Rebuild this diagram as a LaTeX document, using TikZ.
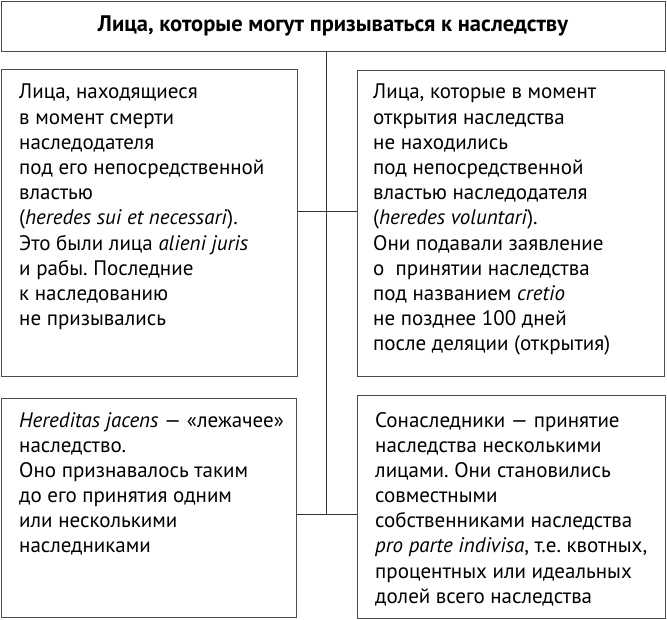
\documentclass[tikz,border=0pt]{standalone}
\usepackage{fontspec}
\setmainfont{PT Sans}
\frenchspacing
\begin{document}
\begin{tikzpicture}[x=1pt,y=-1pt,
  box/.style={draw=black!70, line width=0.9pt, inner sep=0pt, anchor=north west},
  txt/.style={anchor=base west, inner sep=0pt, font=\fontsize{21}{25.2}\selectfont},
  conn/.style={draw=black!80, line width=0.9pt}]
\useasboundingbox (0,0) rectangle (667,620);
\node[draw=black!70, line width=0.9pt, inner sep=0pt, minimum width=664pt, minimum height=50pt,
      font=\bfseries\fontsize{22.5}{24}\selectfont] (title) at (333,26) {Лица, которые могут призываться к наследству};
\node[box, minimum width=296pt, minimum height=307pt] (tl) at (1,69) {};
\node[box, minimum width=307pt, minimum height=306pt] (tr) at (357,70) {};
\node[box, minimum width=295pt, minimum height=219pt] (bl) at (1,398) {};
\node[box, minimum width=308pt, minimum height=223pt] (br) at (357,395) {};
\coordinate (j1) at (326,211);
\coordinate (j2) at (326,514);
\draw[conn] (title.south -| j1) -- (j2);
\draw[conn] (tl.east |- j1) -- (tr.west |- j1);
\draw[conn] (bl.east |- j2) -- (br.west |- j2);
\node[txt] (tltext) at (19,99) {\parbox[t]{275pt}{\raggedright
Лица, находящиеся\\
в момент смерти\\
наследодателя\\
под его непосредственной\\
властью\\
(\textit{heredes sui et necessari}).\\
Это были лица \textit{alieni juris}\\
и рабы. Последние\\
к наследованию\\
не призывались}};
\node[txt] (trtext) at (373,99) {\parbox[t]{285pt}{\raggedright
Лица, которые в момент\\
открытия наследства\\
не находились\\
под непосредственной\\
властью наследодателя\\
(\textit{heredes voluntari}).\\
Они подавали заявление\\
о\ \ принятии наследства\\
под названием \textit{cretio}\\
не позднее 100 дней\\
после деляции (открытия)}};
\node[txt] (bltext) at (19,427) {\parbox[t]{275pt}{\raggedright
\textit{Hereditas jacens} — «лежачее»\\
наследство.\\
Оно признавалось таким\\
до его принятия одним\\
или несколькими\\
наследниками}};
\node[txt] (brtext) at (375,427) {\parbox[t]{285pt}{\raggedright
Сонаследники — принятие\\
наследства несколькими\\
лицами. Они становились\\
совместными\\
собственниками наследства\\
\textit{pro parte indivisa}, т.е. квотных,\\
процентных или идеальных\\
долей всего наследства}};
\end{tikzpicture}
\end{document}
